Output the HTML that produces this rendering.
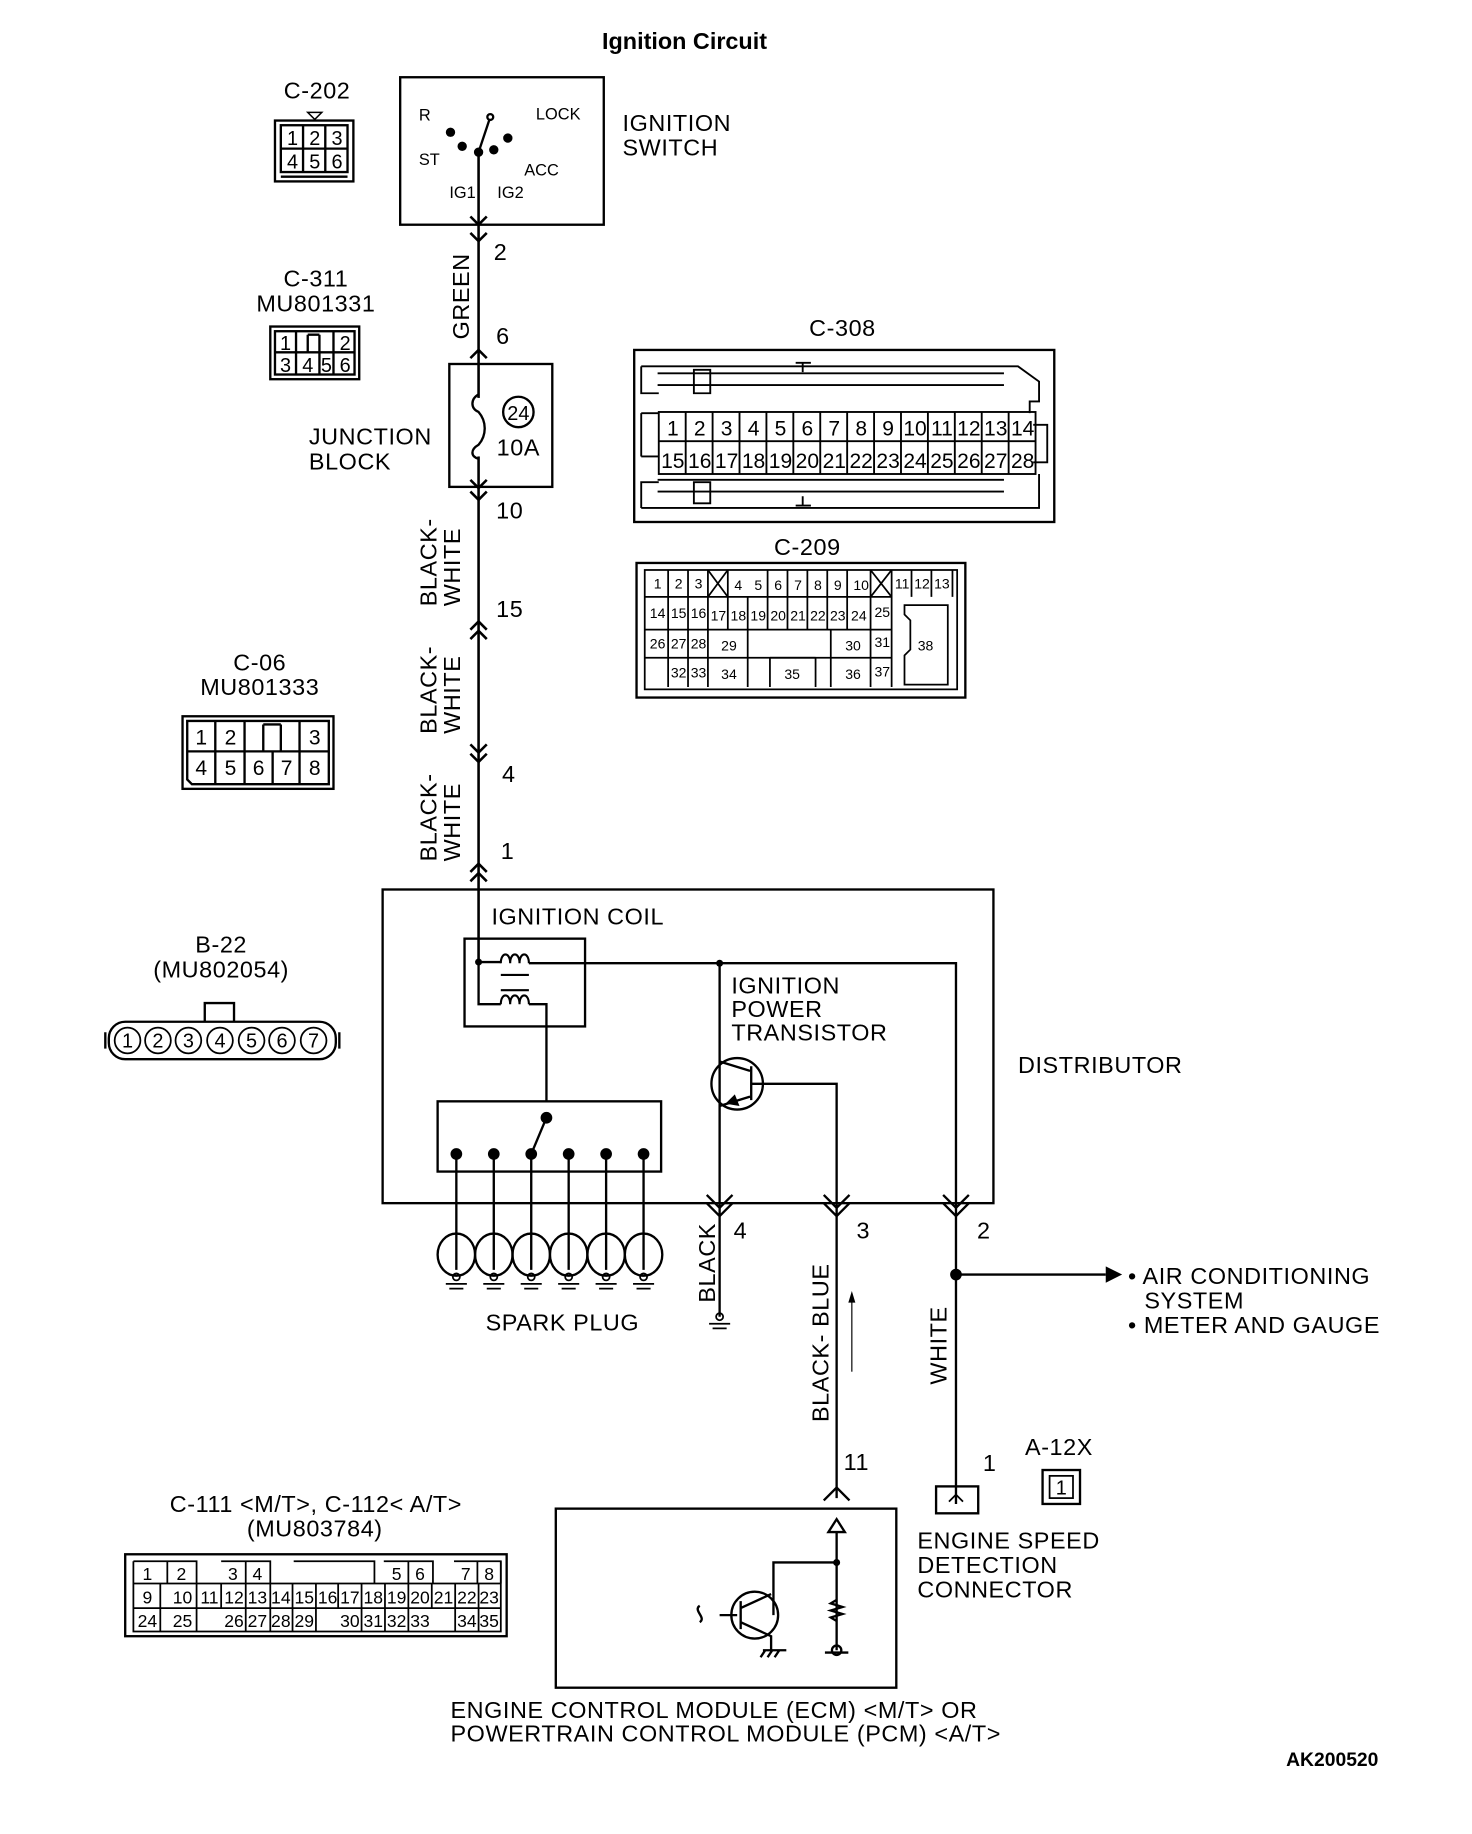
<!DOCTYPE html>
<html><head><meta charset="utf-8"><style>
html,body{margin:0;padding:0;background:#fff}
svg{display:block}
text{font-family:"Liberation Sans",sans-serif;fill:#000}
</style></head><body>
<svg width="1472" height="1834" viewBox="0 0 1258 1567" preserveAspectRatio="none" xmlns="http://www.w3.org/2000/svg">
<rect width="1258" height="1567" fill="#fff"/>
<g font-size="20" letter-spacing="0.5">
<text x="585" y="42" text-anchor="middle" font-weight="bold" font-size="20" letter-spacing="0">Ignition Circuit</text>

<!-- C-202 -->
<text x="271" y="84" text-anchor="middle">C-202</text>
<path d="M263 96 L275 96 L269 102 Z" fill="none" stroke="#000" stroke-width="1.3"/>
<g fill="none" stroke="#000" stroke-width="2">
<rect x="235" y="103" width="67" height="52"/>
<rect x="240" y="107" width="57" height="40"/>
<path d="M240 127 H297 M259 107 V147 M278 107 V147 M240 151 H297"/>
</g>
<g text-anchor="middle" font-size="17" letter-spacing="0"><text x="250" y="124">1</text><text x="269" y="124">2</text><text x="288" y="124">3</text><text x="250" y="144">4</text><text x="269" y="144">5</text><text x="288" y="144">6</text></g>

<!-- Ignition switch -->
<rect x="342" y="66" width="174" height="126" fill="none" stroke="#000" stroke-width="2"/>
<g font-size="14" letter-spacing="0"><text x="358" y="103">R</text><text x="458" y="102">LOCK</text><text x="358" y="141">ST</text><text x="448" y="150">ACC</text><text x="384" y="169">IG1</text><text x="425" y="169">IG2</text></g>
<g stroke="#000" stroke-width="2" fill="#000">
<circle cx="419" cy="100" r="2.5" fill="#fff"/>
<line x1="418" y1="103" x2="409" y2="130"/>
<circle cx="385" cy="113" r="3"/><circle cx="395" cy="125" r="3"/><circle cx="409" cy="130" r="3"/><circle cx="422" cy="128" r="3"/><circle cx="434" cy="118" r="3"/>
</g>
<text x="532" y="112">IGNITION</text><text x="532" y="133">SWITCH</text>

<!-- main wire -->
<g stroke="#000" stroke-width="2.2" fill="none">
<line x1="409" y1="130" x2="409" y2="760"/>
<line x1="409" y1="760" x2="409" y2="822"/>
<path d="M402 199 L409 206 L416 199 M402 185 L409 192 L416 185"/>
<path d="M402 306 L409 299 L416 306"/>
<path d="M402 420 L409 427 L416 420 M402 410 L409 417 L416 410"/>
<path d="M402 538 L409 531 L416 538 M402 546 L409 539 L416 546"/>
<path d="M402 636 L409 643 L416 636 M402 644 L409 651 L416 644"/>
<path d="M402 745 L409 738 L416 745 M402 753 L409 746 L416 753"/>
</g>
<text x="422" y="222">2</text>
<text x="424" y="294">6</text>
<text x="424" y="443">10</text>
<text x="424" y="527">15</text>
<text x="429" y="668">4</text>
<text x="428" y="734">1</text>
<text transform="translate(401,290) rotate(-90)">GREEN</text>
<text transform="translate(373,518) rotate(-90)">BLACK-</text><text transform="translate(393,518) rotate(-90)">WHITE</text>
<text transform="translate(373,627) rotate(-90)">BLACK-</text><text transform="translate(393,627) rotate(-90)">WHITE</text>
<text transform="translate(373,736) rotate(-90)">BLACK-</text><text transform="translate(393,736) rotate(-90)">WHITE</text>

<!-- C-311 -->
<text x="270" y="245" text-anchor="middle">C-311</text><text x="270" y="266" text-anchor="middle">MU801331</text>
<g fill="none" stroke="#000" stroke-width="2"><rect x="231" y="279" width="76" height="45"/><rect x="235" y="283" width="68" height="37"/>
<path d="M235 301 H303 M253 283 V320 M273 301 V320 M285 283 V320 M263 286 V301 M273 286 V301 M263 286 H273"/></g>
<g text-anchor="middle" font-size="17" letter-spacing="0"><text x="244" y="299">1</text><text x="295" y="299">2</text><text x="244" y="318">3</text><text x="263" y="318">4</text><text x="279" y="318">5</text><text x="295" y="318">6</text></g>

<!-- Junction block -->
<rect x="384" y="311" width="88" height="105" fill="none" stroke="#000" stroke-width="2"/>
<rect x="404" y="340" width="10" height="50" fill="#fff"/>
<path d="M409 337 C402 341 402 349 409 352 C416 360 416 372 409 380 C402 384 402 390 409 392" fill="none" stroke="#000" stroke-width="2"/>
<circle cx="443" cy="352" r="13" fill="none" stroke="#000" stroke-width="2"/>
<text x="443" y="359" text-anchor="middle" font-size="17" letter-spacing="0">24</text>
<text x="443" y="389" text-anchor="middle">10A</text>
<text x="264" y="380">JUNCTION</text><text x="264" y="401">BLOCK</text>

<!-- C-308 -->
<text x="720" y="287" text-anchor="middle">C-308</text>
<g fill="none" stroke="#000" stroke-width="1.6">
<rect x="542" y="299" width="359" height="147" stroke-width="2"/>
<path d="M548 313 H870 L888 326 V343 L880 343 V353 M548 313 V336 H563 M548 313 H593 M593 316 V336 H607 V316 Z M562 319 H858 M562 329 H858"/>
<path d="M548 434 V412 H563 M548 434 H888 V405 M593 430 V412 H607 V430 Z M562 420 H858 M562 410 H858"/>
<path d="M680 310 H693 M686 310 V318 M680 432 H693 M686 432 V424"/>
<path d="M548 353 V390 M548 353 H563 M548 390 H563 M883 363 H895 V395 H883"/>
<rect x="563" y="352" width="322" height="53"/>
<path d="M563 377 H885"/>
<path d="M586 352 V405 M609 352 V405 M632 352 V405 M655 352 V405 M678 352 V405 M701 352 V405 M724 352 V405 M747 352 V405 M770 352 V405 M793 352 V405 M816 352 V405 M839 352 V405 M862 352 V405"/>
</g>
<g text-anchor="middle" font-size="18" letter-spacing="0">
<text x="575" y="372">1</text><text x="598" y="372">2</text><text x="621" y="372">3</text><text x="644" y="372">4</text><text x="667" y="372">5</text><text x="690" y="372">6</text><text x="713" y="372">7</text><text x="736" y="372">8</text><text x="759" y="372">9</text><text x="782" y="372">10</text><text x="805" y="372">11</text><text x="828" y="372">12</text><text x="851" y="372">13</text><text x="874" y="372">14</text>
<text x="575" y="400">15</text><text x="598" y="400">16</text><text x="621" y="400">17</text><text x="644" y="400">18</text><text x="667" y="400">19</text><text x="690" y="400">20</text><text x="713" y="400">21</text><text x="736" y="400">22</text><text x="759" y="400">23</text><text x="782" y="400">24</text><text x="805" y="400">25</text><text x="828" y="400">26</text><text x="851" y="400">27</text><text x="874" y="400">28</text>
</g>

<!-- C-209 -->
<text x="690" y="474" text-anchor="middle">C-209</text>
<g fill="none" stroke="#000" stroke-width="1.5">
<rect x="544" y="481" width="281" height="115" stroke-width="2"/>
<rect x="551" y="487" width="267" height="102"/>
<path d="M551 510 H762 M551 538 H762 M551 562 H762"/>
<path d="M571 487 V587 M588 487 V587 M605 487 V538 M622 487 V510 M605 510 V587 M639 510 V538 M656 487 V538 M673 487 V538 M690 487 V538 M707 487 V538 M724 487 V538 M744 487 V587 M762 487 V587 M779 487 V510 M796 487 V510 M814 487 V510 M639 538 V587 M658 562 V587 M697 562 V587 M658 562 H697 M710 538 V587 M622 510 V538"/>
<path d="M605 487 L622 510 M622 487 L605 510 M744 487 L762 510 M762 487 L744 510"/>
<path d="M773 517 H810 V585 H773 V560 L778 555 V530 L773 525 Z"/>
</g>
<g text-anchor="middle" font-size="12" letter-spacing="0">
<text x="562" y="503">1</text><text x="580" y="503">2</text><text x="597" y="503">3</text><text x="631" y="504">4</text><text x="648" y="504">5</text><text x="665" y="504">6</text><text x="682" y="504">7</text><text x="699" y="504">8</text><text x="716" y="504">9</text><text x="736" y="504">10</text><text x="771" y="503">11</text><text x="788" y="503">12</text><text x="805" y="503">13</text>
<text x="562" y="528">14</text><text x="580" y="528">15</text><text x="597" y="528">16</text><text x="614" y="530">17</text><text x="631" y="530">18</text><text x="648" y="530">19</text><text x="665" y="530">20</text><text x="682" y="530">21</text><text x="699" y="530">22</text><text x="716" y="530">23</text><text x="734" y="530">24</text><text x="754" y="527">25</text>
<text x="562" y="554">26</text><text x="580" y="554">27</text><text x="597" y="554">28</text><text x="623" y="556">29</text><text x="729" y="556">30</text><text x="754" y="553">31</text>
<text x="580" y="579">32</text><text x="597" y="579">33</text><text x="623" y="580">34</text><text x="677" y="580">35</text><text x="729" y="580">36</text><text x="754" y="578">37</text>
<text x="791" y="556">38</text>
</g>

<!-- C-06 -->
<text x="222" y="573" text-anchor="middle">C-06</text><text x="222" y="594" text-anchor="middle">MU801333</text>
<g fill="none" stroke="#000" stroke-width="2"><rect x="156" y="612" width="129" height="62"/>
<path d="M160 616 H281 V670 H164 L160 666 Z M160 642 H281 M184 616 V670 M209 616 V670 M233 642 V670 M256 616 V670 M225 619 V642 M240 619 V642 M225 619 H240"/></g>
<g text-anchor="middle" font-size="18" letter-spacing="0"><text x="172" y="636">1</text><text x="197" y="636">2</text><text x="269" y="636">3</text><text x="172" y="662">4</text><text x="197" y="662">5</text><text x="221" y="662">6</text><text x="245" y="662">7</text><text x="269" y="662">8</text></g>

<!-- B-22 -->
<text x="189" y="814" text-anchor="middle">B-22</text><text x="189" y="835" text-anchor="middle">(MU802054)</text>
<g fill="none" stroke="#000" stroke-width="2">
<path d="M175 873 V857 H200 V873"/>
<rect x="93" y="873" width="194" height="32" rx="14"/>
<path d="M90 882 V896 M290 882 V896"/>
</g>
<g font-size="17" text-anchor="middle" letter-spacing="0">
<circle cx="109" cy="889" r="11" fill="none" stroke="#000" stroke-width="1.5"/><text x="109" y="895">1</text>
<circle cx="135" cy="889" r="11" fill="none" stroke="#000" stroke-width="1.5"/><text x="135" y="895">2</text>
<circle cx="161" cy="889" r="11" fill="none" stroke="#000" stroke-width="1.5"/><text x="161" y="895">3</text>
<circle cx="188" cy="889" r="11" fill="none" stroke="#000" stroke-width="1.5"/><text x="188" y="895">4</text>
<circle cx="215" cy="889" r="11" fill="none" stroke="#000" stroke-width="1.5"/><text x="215" y="895">5</text>
<circle cx="241" cy="889" r="11" fill="none" stroke="#000" stroke-width="1.5"/><text x="241" y="895">6</text>
<circle cx="268" cy="889" r="11" fill="none" stroke="#000" stroke-width="1.5"/><text x="268" y="895">7</text>
</g>

<!-- distributor -->
<g fill="none" stroke="#000" stroke-width="2">
<rect x="327" y="760" width="522" height="268"/>
<rect x="397" y="802" width="103" height="75"/>
<path d="M409 822 H428 M409 822 V858 H428 M452 823 H817 V1028 M452 858 H467 V941"/>
<path d="M428 823 c0 -10 8 -10 8 0 c0 -10 8 -10 8 0 c0 -10 8 -10 8 0 M428 858 c0 -10 8 -10 8 0 c0 -10 8 -10 8 0 c0 -10 8 -10 8 0" stroke-width="1.8"/>
<path d="M428 833 H452 M428 846 H452" stroke-width="1.8"/>
<rect x="374" y="941" width="191" height="60"/>
<path d="M467 955 L454 986"/>
<line x1="615" y1="823" x2="615" y2="1125"/>
<circle cx="630" cy="926" r="22"/>
<path d="M615 907 L641 915 M642 911 V940 M642 926 H715 V1280 M615 945 L641 937"/>
<path d="M604 1021 L615 1032 L626 1021 M604 1028 L615 1039 L626 1028 M704 1021 L715 1032 L726 1021 M704 1028 L715 1039 L726 1028 M806 1021 L817 1032 L828 1021 M806 1028 L817 1039 L828 1028"/>
<line x1="817" y1="1028" x2="817" y2="1285"/>
<line x1="817" y1="1089" x2="945" y2="1089"/>
<path d="M704 1282 L715 1271 L726 1282" />
</g>
<path d="M945 1082 L959 1089 L945 1096 Z"/>
<circle cx="817" cy="1089" r="5"/>
<circle cx="409" cy="822" r="3"/><circle cx="615" cy="823" r="3"/><circle cx="467" cy="955" r="5"/>
<path d="M620 943 L628 935 L632 945 Z"/>
<g fill="#000">
<circle cx="390" cy="986" r="5"/><circle cx="422" cy="986" r="5"/><circle cx="454" cy="986" r="5"/><circle cx="486" cy="986" r="5"/><circle cx="518" cy="986" r="5"/><circle cx="550" cy="986" r="5"/>
</g>
<g fill="none" stroke="#000" stroke-width="2">
<path d="M390 986 V1085 M422 986 V1085 M454 986 V1085 M486 986 V1085 M518 986 V1085 M550 986 V1085"/>
<ellipse cx="390" cy="1072" rx="16" ry="18"/><ellipse cx="422" cy="1072" rx="16" ry="18"/><ellipse cx="454" cy="1072" rx="16" ry="18"/><ellipse cx="486" cy="1072" rx="16" ry="18"/><ellipse cx="518" cy="1072" rx="16" ry="18"/><ellipse cx="550" cy="1072" rx="16" ry="18"/>
<g stroke-width="1.5">
<circle cx="390" cy="1091" r="3"/><circle cx="422" cy="1091" r="3"/><circle cx="454" cy="1091" r="3"/><circle cx="486" cy="1091" r="3"/><circle cx="518" cy="1091" r="3"/><circle cx="550" cy="1091" r="3"/>
<path d="M381 1097 H399 M384 1101 H396 M413 1097 H431 M416 1101 H428 M445 1097 H463 M448 1101 H460 M477 1097 H495 M480 1101 H492 M509 1097 H527 M512 1101 H524 M541 1097 H559 M544 1101 H556"/>
<circle cx="615" cy="1125" r="3"/><path d="M606 1131 H624 M609 1135 H621"/>
</g>
</g>
<text x="420" y="790">IGNITION COIL</text>
<text x="625" y="849">IGNITION</text><text x="625" y="869">POWER</text><text x="625" y="889">TRANSISTOR</text>
<text x="870" y="917">DISTRIBUTOR</text>
<text x="415" y="1137">SPARK PLUG</text>
<text x="627" y="1058">4</text><text x="732" y="1058">3</text><text x="835" y="1058">2</text>
<text transform="translate(611,1113) rotate(-90)">BLACK</text>
<text transform="translate(708,1215) rotate(-90)">BLACK- BLUE</text>
<text transform="translate(809,1183) rotate(-90)">WHITE</text>
<line x1="728" y1="1105" x2="728" y2="1172" stroke="#000" stroke-width="1"/>
<path d="M725 1113 L728 1103 L731 1113 Z"/>
<text x="964" y="1097">• AIR CONDITIONING</text><text x="978" y="1118">SYSTEM</text><text x="964" y="1139">• METER AND GAUGE</text>

<text x="721" y="1256">11</text><text x="840" y="1257">1</text>
<text x="876" y="1243">A-12X</text>
<rect x="891" y="1256" width="32" height="29" fill="none" stroke="#000" stroke-width="2"/>
<rect x="897" y="1261" width="20" height="19" fill="none" stroke="#000" stroke-width="1.5"/>
<text x="907" y="1277" text-anchor="middle" font-size="17" letter-spacing="0">1</text>
<rect x="800" y="1270" width="36" height="23" fill="none" stroke="#000" stroke-width="2"/>
<path d="M811 1283 L817 1277 L823 1283" fill="none" stroke="#000" stroke-width="1.5"/>
<text x="784" y="1323">ENGINE SPEED</text><text x="784" y="1344">DETECTION</text><text x="784" y="1365">CONNECTOR</text>

<!-- ECM -->
<g fill="none" stroke="#000" stroke-width="2">
<rect x="475" y="1289" width="291" height="153"/>
<path d="M715 1309 V1410 M715 1335 H661 V1380"/>
<path d="M708 1309 L715 1298 L722 1309 Z"/>
<circle cx="645" cy="1380" r="20"/>
<path d="M630 1380 H615 M633 1368 V1392 M633 1374 L659 1362 M633 1386 L659 1398 V1410"/>
<path d="M598 1372 c-6 4 6 10 0 14"/>
<path d="M715 1367 l-5 3 l10 3 l-10 3 l10 3 l-10 3 l5 3"/>
<path d="M652 1410 H672 M654 1410 l-4 6 M660 1410 l-4 6 M666 1410 l-4 6 M705 1412 H725"/>
<circle cx="715" cy="1410" r="4"/>
</g>
<circle cx="715" cy="1335" r="3"/>
<text x="385" y="1468">ENGINE CONTROL MODULE (ECM) &lt;M/T&gt; OR</text>
<text x="385" y="1488">POWERTRAIN CONTROL MODULE (PCM) &lt;A/T&gt;</text>

<!-- C-111 -->
<text x="270" y="1292" text-anchor="middle">C-111 &lt;M/T&gt;, C-112&lt; A/T&gt;</text>
<text x="269" y="1313" text-anchor="middle">(MU803784)</text>
<g fill="none" stroke="#000" stroke-width="1.5">
<rect x="107" y="1328" width="326" height="70" stroke-width="2"/>
<path d="M114 1334 H143 V1353 M143 1334 H168 V1353 M189 1334 H231 V1353 M210 1334 V1353 M251 1334 H320 V1353 M328 1334 H370 V1353 M349 1334 V1353 M388 1334 H428 V1353 M408 1334 V1353"/>
<path d="M114 1334 V1394 H428 V1334 M114 1353 H428 M114 1374 H428"/>
<path d="M137 1353 V1394 M168 1353 V1394 M189 1353 V1374 M210 1353 V1394 M231 1353 V1394 M250 1353 V1394 M270 1353 V1394 M289 1353 V1374 M309 1353 V1394 M329 1353 V1394 M349 1353 V1394 M369 1353 V1374 M389 1353 V1394 M409 1353 V1394"/>
</g>
<g text-anchor="middle" font-size="15" letter-spacing="0">
<text x="126" y="1350">1</text><text x="155" y="1350">2</text><text x="199" y="1350">3</text><text x="220" y="1350">4</text><text x="339" y="1350">5</text><text x="359" y="1350">6</text><text x="398" y="1350">7</text><text x="418" y="1350">8</text>
<text x="126" y="1370">9</text><text x="156" y="1370">10</text><text x="179" y="1370">11</text><text x="200" y="1370">12</text><text x="220" y="1370">13</text><text x="240" y="1370">14</text><text x="260" y="1370">15</text><text x="280" y="1370">16</text><text x="299" y="1370">17</text><text x="319" y="1370">18</text><text x="339" y="1370">19</text><text x="359" y="1370">20</text><text x="379" y="1370">21</text><text x="399" y="1370">22</text><text x="418" y="1370">23</text>
<text x="126" y="1390">24</text><text x="156" y="1390">25</text><text x="200" y="1390">26</text><text x="220" y="1390">27</text><text x="240" y="1390">28</text><text x="260" y="1390">29</text><text x="299" y="1390">30</text><text x="319" y="1390">31</text><text x="339" y="1390">32</text><text x="359" y="1390">33</text><text x="399" y="1390">34</text><text x="418" y="1390">35</text>
</g>

<text x="1178" y="1509" text-anchor="end" font-weight="bold" font-size="16.5" letter-spacing="0">AK200520</text>
</g>
</svg>
</body></html>
